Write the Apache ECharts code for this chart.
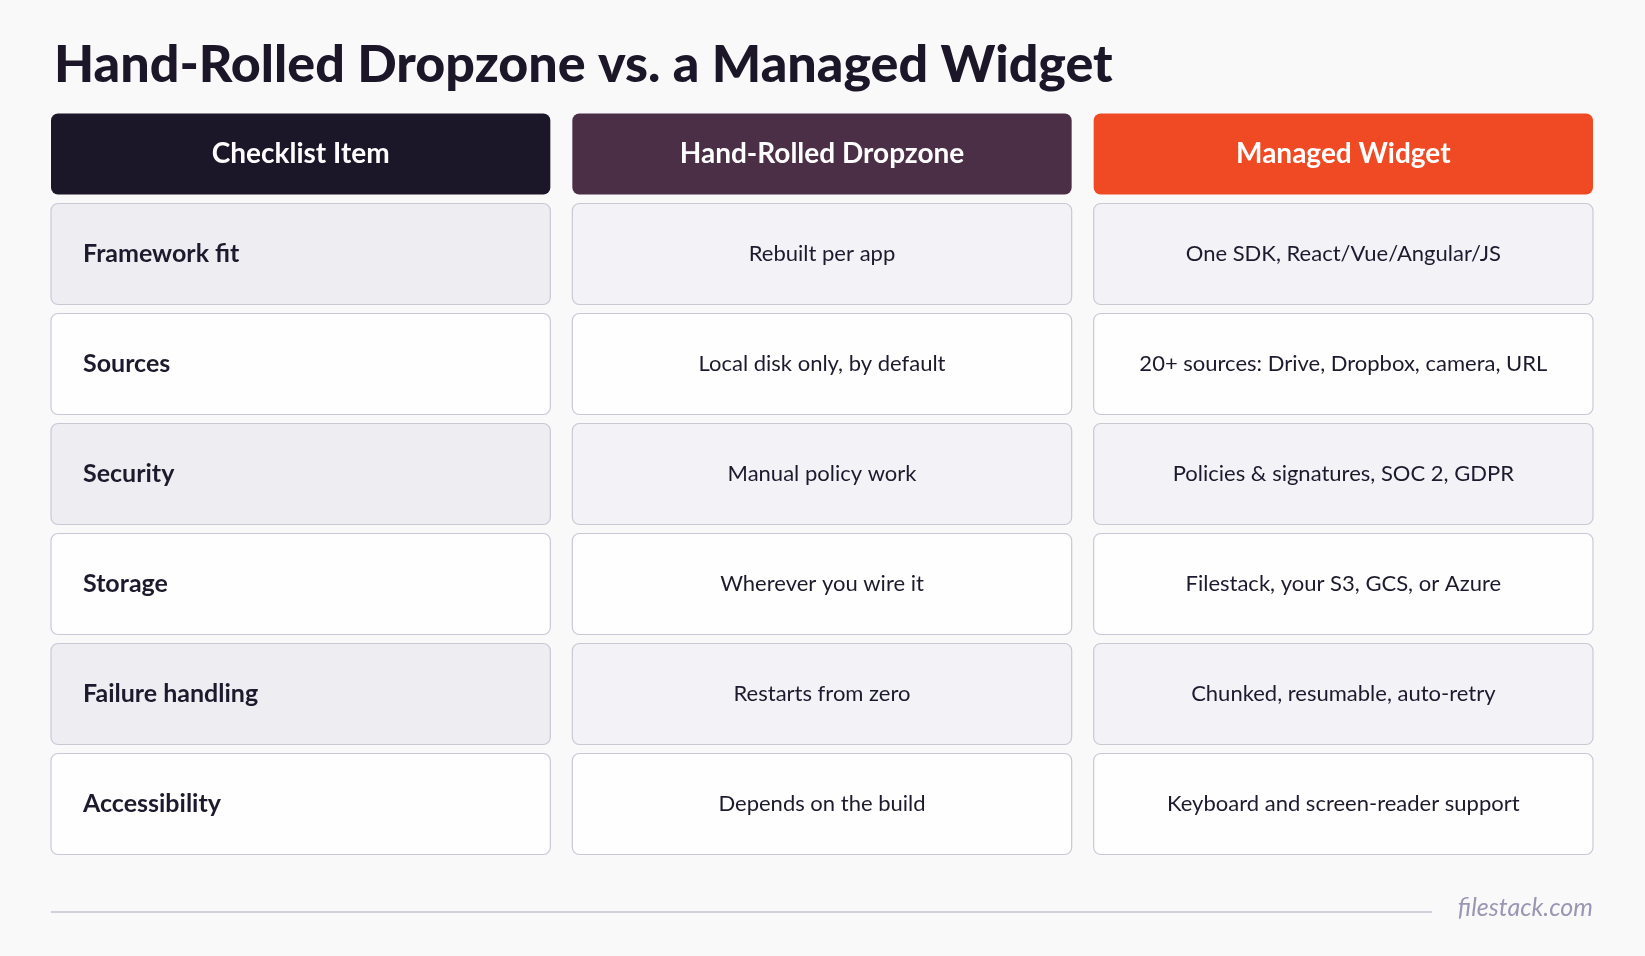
<!DOCTYPE html>
<html><head><meta charset="utf-8">
<script src="https://cdn.jsdelivr.net/npm/echarts@6/dist/echarts.min.js"></script>
<style>html,body{margin:0;background:#f9f9fa}#c{width:1645px;height:956px}</style>
</head><body><div id="c"></div>
<script>
const columns = ['Checklist Item', 'Hand-Rolled Dropzone', 'Managed Widget'];
const items = ['Framework fit', 'Sources', 'Security', 'Storage', 'Failure handling', 'Accessibility'];
const handRolled = ['Rebuilt per app', 'Local disk only, by default', 'Manual policy work', 'Wherever you wire it', 'Restarts from zero', 'Depends on the build'];
const managed = ['One SDK, React/Vue/Angular/JS', '20+ sources: Drive, Dropbox, camera, URL', 'Policies & signatures, SOC 2, GDPR', 'Filestack, your S3, GCS, or Azure', 'Chunked, resumable, auto-retry', 'Keyboard and screen-reader support'];
const headerColors = ['#1c1629', '#4b2f46', '#ef4a24'];

const rows = ['header'].concat(items);
const data = [];
columns.forEach((c, ci) => data.push([ci, 0, c]));
items.forEach((it, ri) => {
  data.push([0, ri + 1, it]);
  data.push([1, ri + 1, handRolled[ri]]);
  data.push([2, ri + 1, managed[ri]]);
});
const FONT = 'Lato, "Noto Sans", sans-serif';
const chart = echarts.init(document.getElementById('c'));
chart.setOption({
  backgroundColor: '#f9f9fa',
  title: { text: 'Hand-Rolled Dropzone vs. a Managed Widget', left: 49, top: 34,
    textStyle: { fontFamily: FONT, fontWeight: 900, fontSize: 52, color: '#1c1629' } },
  grid: { left: 40, right: 41, top: 89, height: 770 },
  xAxis: { type: 'category', data: columns, show: false },
  yAxis: { type: 'category', data: rows, inverse: true, show: false },
  graphic: [
    { type: 'line', shape: { x1: 51, y1: 912, x2: 1432, y2: 912 }, style: { stroke: '#c4c1d2', lineWidth: 1.5 } },
    { type: 'text', right: 52, top: 895, style: { text: 'filestack.com', font: 'italic 25px ' + FONT, fill: '#9a96b4' } }
  ],
  series: [{
    type: 'custom',
    data: data,
    renderItem: function (params, api) {
      const ci = api.value(0), ri = api.value(1);
      const p = api.coord([ci, ri]);
      const bw = api.size([1, 1])[0];
      const w = bw - 22;
      const isHeader = ri === 0;
      const h = isHeader ? 81 : 101;
      const cy = isHeader ? p[1] + 10 : p[1];
      const x = p[0] - w / 2, y = cy - h / 2;
      let fill, textColor, font, tx, align;
      if (isHeader) {
        fill = headerColors[ci]; textColor = '#ffffff'; font = 'bold 28px ' + FONT;
        tx = p[0]; align = 'center';
      } else {
        const shaded = (ri % 2) === 1;
        fill = shaded ? (ci === 0 ? '#eeedf1' : '#f3f2f6') : '#fefefe';
        textColor = '#1e1a2e';
        font = ci === 0 ? 'bold 25px ' + FONT : '22px ' + FONT;
        tx = ci === 0 ? x + 32 : p[0]; align = ci === 0 ? 'left' : 'center';
      }
      return { type: 'group', children: [
        { type: 'rect', shape: { x: x, y: y, width: w, height: h, r: 7 },
          style: isHeader ? { fill: fill } : { fill: fill, stroke: '#cbc8d6', lineWidth: 1.2 } },
        { type: 'text', style: { x: tx, y: cy, text: api.value(2), font: font, fill: textColor, align: align, verticalAlign: 'middle' } }
      ]};
    }
  }]
});
</script></body></html>
